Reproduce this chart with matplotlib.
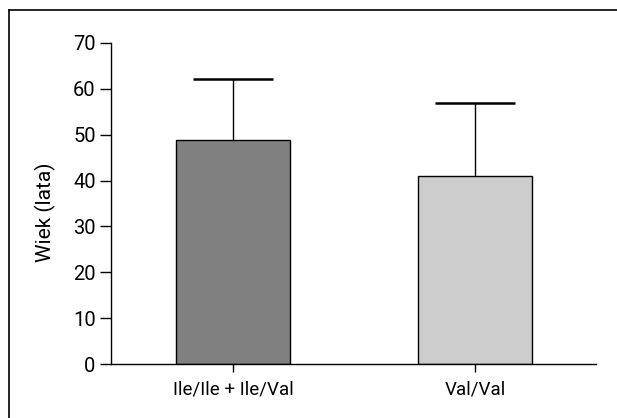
import matplotlib.pyplot as plt
from matplotlib.lines import Line2D

# data
groups = ["Ile/Ile + Ile/Val", "Val/Val"]
means = [48.9, 41.0]
sds = [13.2, 15.9]
colors = ["#808080", "#cccccc"]
yticks = [0, 10, 20, 30, 40, 50, 60, 70]

plt.rcParams["font.family"] = ["Roboto", "DejaVu Sans"]

fig = plt.figure(figsize=(6.17, 4.18), dpi=100)
W, H = 617, 418
ax = fig.add_axes([111 / W, 1 - 364 / H, (596 - 111) / W, (364 - 43) / H])

x = list(range(len(groups)))
ax.bar(x, means, width=0.471, color=colors, edgecolor="black", linewidth=1.0, zorder=2)
eb = ax.errorbar(x, means, yerr=[[0] * len(sds), sds], fmt="none", ecolor="black",
                 elinewidth=1.0, capsize=29, capthick=1.8, zorder=1)
# only the upper cap is shown
eb[1][0].set_visible(False)

ax.set_xlim(-0.504, 1.5)
ax.set_ylim(0, 70)
ax.set_yticks(yticks)
ax.set_xticks(x)
ax.set_xticklabels(groups)
ax.set_ylabel("Wiek (lata)", fontsize=15)
ax.yaxis.set_label_coords(-0.113, 0.474)
ax.tick_params(axis="y", length=8, width=1, labelsize=14.5, pad=3)
ax.tick_params(axis="x", length=6, width=1, labelsize=13.5, pad=6)
for s in ["top", "right"]:
    ax.spines[s].set_visible(False)
for s in ["left", "bottom"]:
    ax.spines[s].set_linewidth(1.0)

# outer frame (top and left edges only)
fig.add_artist(Line2D([9 / W, 9 / W], [0, 1 - 10 / H], transform=fig.transFigure, color="black", lw=1.2))
fig.add_artist(Line2D([9 / W, 1], [1 - 10 / H, 1 - 10 / H], transform=fig.transFigure, color="black", lw=1.2))

plt.savefig("out.png", dpi=100)
